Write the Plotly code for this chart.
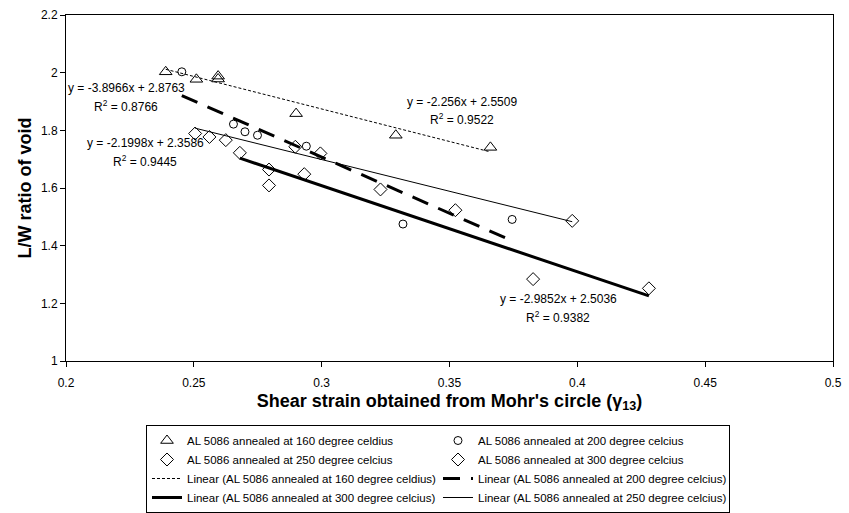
import plotly.graph_objects as go

# Measured L/W ratio of voids against shear strain, per annealing temperature
x_160 = [0.239, 0.251, 0.2595, 0.2595, 0.290, 0.329, 0.366]
y_160 = [2.003, 1.977, 1.988, 1.978, 1.858, 1.783, 1.741]

x_200 = [0.2453, 0.2655, 0.270, 0.2749, 0.294, 0.3318, 0.3745]
y_200 = [2.003, 1.8215, 1.795, 1.783, 1.745, 1.475, 1.491]

x_250 = [0.2505, 0.2561, 0.2625, 0.2897, 0.2995, 0.398]
y_250 = [1.789, 1.777, 1.766, 1.743, 1.720, 1.486]

x_300 = [0.268, 0.2794, 0.2794, 0.2932, 0.323, 0.3523, 0.3827, 0.428]
y_300 = [1.722, 1.664, 1.609, 1.648, 1.595, 1.523, 1.284, 1.252]

# Linear trendline coefficients (slope, intercept, R^2)
fit_160 = (-2.256, 2.5509, 0.9522)
fit_200 = (-3.8966, 2.8763, 0.8766)
fit_250 = (-2.1998, 2.3586, 0.9445)
fit_300 = (-2.9852, 2.5036, 0.9382)

# Label anchor points (data coordinates) for each trendline equation
label_pos_160 = (0.3549, 1.899, 1.838)
label_pos_200 = (0.2235, 1.946, 1.884)
label_pos_250 = (0.2309, 1.756, 1.693)
label_pos_300 = (0.3926, 1.215, 1.153)

FONT = "Liberation Sans, Arial, sans-serif"
BLACK = "black"

fig = go.Figure()

marker_series = [
    ("AL 5086 annealed at 160 degree celdius", x_160, y_160, "triangle-up-open", 11),
    ("AL 5086 annealed at 200 degree celcius", x_200, y_200, "circle-open", 8),
    ("AL 5086 annealed at 250 degree celcius", x_250, y_250, "diamond-open", 10),
    ("AL 5086 annealed at 300 degree celcius", x_300, y_300, "diamond-open", 10),
]
for name, xs, ys, sym, size in marker_series:
    fig.add_trace(go.Scatter(
        x=xs, y=ys, mode="markers", name=name,
        marker=dict(symbol=sym, size=size, color=BLACK, line=dict(color=BLACK, width=1)),
    ))


def trend(xs, fit):
    m, b, _ = fit
    lo, hi = min(xs), max(xs)
    return [lo, hi], [m * lo + b, m * hi + b]


line_series = [
    ("Linear (AL 5086 annealed at 160 degree celdius)", x_160, fit_160, dict(color=BLACK, width=1, dash="3px,2px")),
    ("Linear (AL 5086 annealed at 200 degree celcius)", x_200, fit_200, dict(color=BLACK, width=3, dash="17px,11px")),
    ("Linear (AL 5086 annealed at 300 degree celcius)", x_300, fit_300, dict(color=BLACK, width=3)),
    ("Linear (AL 5086 annealed at 250 degree celcius)", x_250, fit_250, dict(color=BLACK, width=1)),
]
for name, xs, fit, style in line_series:
    lx, ly = trend(xs, fit)
    fig.add_trace(go.Scatter(x=lx, y=ly, mode="lines", name=name, line=style))

# Trendline equations and R^2 values
for fit, pos in [(fit_160, label_pos_160), (fit_200, label_pos_200),
                 (fit_250, label_pos_250), (fit_300, label_pos_300)]:
    m, b, r2 = fit
    lx, ly_eq, ly_r2 = pos
    fig.add_annotation(x=lx, y=ly_eq, text=f"y = {m:g}x + {b:g}", showarrow=False,
                       font=dict(family=FONT, size=12, color=BLACK))
    fig.add_annotation(x=lx, y=ly_r2, text=f"R<sup>2</sup> = {r2:g}", showarrow=False,
                       font=dict(family=FONT, size=12, color=BLACK))

axis_common = dict(
    showline=True, linecolor=BLACK, linewidth=1, mirror=True,
    showgrid=False, zeroline=False, automargin=False,
    ticks="outside", ticklen=5, tickcolor=BLACK, tickwidth=1,
    tickfont=dict(family=FONT, size=12, color=BLACK),
)

fig.update_layout(
    width=849, height=513,
    margin=dict(l=66, r=16, t=15, b=152),
    paper_bgcolor="white", plot_bgcolor="white",
    font=dict(family=FONT, color=BLACK),
    xaxis=dict(
        range=[0.2, 0.5], dtick=0.05, tick0=0.2,
        ticklabelstandoff=6,
        title=dict(text="<b>Shear strain obtained from Mohr's circle (γ<sub>13</sub>)</b>",
                   font=dict(family=FONT, size=18, color=BLACK), standoff=4),
        **axis_common,
    ),
    yaxis=dict(
        range=[1, 2.2], dtick=0.2, tick0=1,
        title=dict(text="<b>L/W ratio of void</b>",
                   font=dict(family=FONT, size=18, color=BLACK), standoff=4),
        **axis_common,
    ),
    legend=dict(
        orientation="h",
        xref="paper", x=0.1043, xanchor="left",
        yref="container", y=0.0, yanchor="bottom",
        entrywidth=246, entrywidthmode="pixels",
        bordercolor=BLACK, borderwidth=1, bgcolor="white",
        font=dict(family=FONT, size=11.5, color=BLACK),
        traceorder="normal",
    ),
    showlegend=True,
)

fig.write_html("out.html")
